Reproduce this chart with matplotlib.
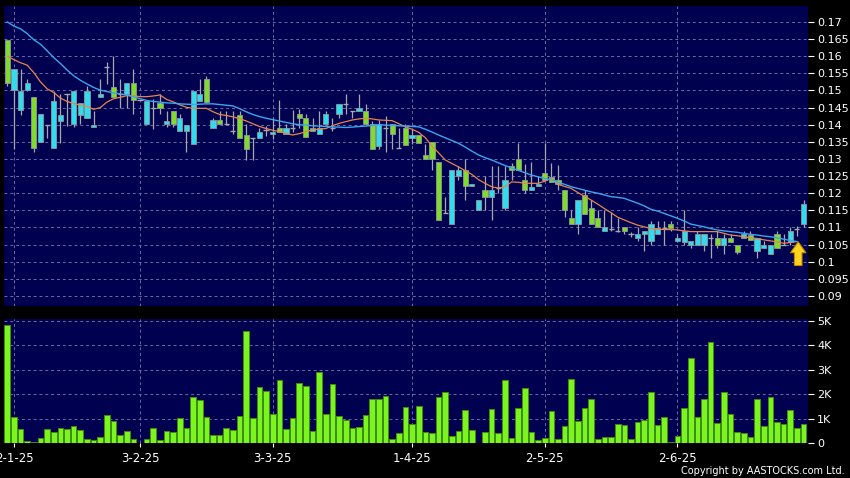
#%% Import libs
import numpy as np
import matplotlib.pyplot as plt

#%% Data (one candle per trading day)
date_labels = ['2-1-25', '3-2-25', '3-3-25', '1-4-25', '2-5-25', '2-6-25']
date_pos = [1, 20, 40, 61, 81, 101]

opens = [0.1648, 0.1501, 0.1443, 0.1501, 0.1480, 0.1350, 0.1400, 0.1331, 0.1412, 0.1490,
         0.1402, 0.1428, 0.1421, 0.1392, 0.1480, 0.1569, 0.1511, 0.1490, 0.1490, 0.1521,
         0.1472, 0.1402, 0.1450, 0.1463, 0.1402, 0.1441, 0.1382, 0.1382, 0.1343, 0.1470,
         0.1533, 0.1391, 0.1413, 0.1401, 0.1381, 0.1428, 0.1370, 0.1362, 0.1362, 0.1385,
         0.1372, 0.1391, 0.1372, 0.1390, 0.1430, 0.1420, 0.1381, 0.1372, 0.1401, 0.1391,
         0.1430, 0.1461, 0.1440, 0.1440, 0.1440, 0.1401, 0.1339, 0.1390, 0.1401, 0.1332,
         0.1391, 0.1360, 0.1370, 0.1311, 0.1350, 0.1290, 0.1141, 0.1110, 0.1250, 0.1269,
         0.1220, 0.1150, 0.1209, 0.1190, 0.1215, 0.1158, 0.1279, 0.1299, 0.1240, 0.1209,
         0.1220, 0.1258, 0.1248, 0.1240, 0.1209, 0.1129, 0.1110, 0.1196, 0.1158, 0.1129,
         0.1090, 0.1097, 0.1090, 0.1100, 0.1080, 0.1070, 0.1080, 0.1060, 0.1080, 0.1099,
         0.1109, 0.1060, 0.1059, 0.1050, 0.1050, 0.1050, 0.1070, 0.1070, 0.1050, 0.1070,
         0.1049, 0.1070, 0.1078, 0.1031, 0.1039, 0.1022, 0.1080, 0.1050, 0.1059, 0.1095,
         0.1109]
highs = [0.1648, 0.1562, 0.1562, 0.1533, 0.1480, 0.1430, 0.1400, 0.1499, 0.1490, 0.1490,
         0.1499, 0.1463, 0.1514, 0.1441, 0.1533, 0.1582, 0.1600, 0.1533, 0.1521, 0.1562,
         0.1472, 0.1470, 0.1475, 0.1490, 0.1441, 0.1441, 0.1431, 0.1400, 0.1499, 0.1533,
         0.1543, 0.1421, 0.1440, 0.1440, 0.1440, 0.1440, 0.1401, 0.1362, 0.1390, 0.1397,
         0.1420, 0.1472, 0.1401, 0.1442, 0.1445, 0.1430, 0.1420, 0.1440, 0.1440, 0.1420,
         0.1461, 0.1491, 0.1440, 0.1491, 0.1462, 0.1411, 0.1415, 0.1425, 0.1401, 0.1390,
         0.1401, 0.1389, 0.1370, 0.1345, 0.1350, 0.1290, 0.1190, 0.1269, 0.1279, 0.1299,
         0.1228, 0.1180, 0.1250, 0.1279, 0.1279, 0.1279, 0.1287, 0.1347, 0.1285, 0.1292,
         0.1250, 0.1347, 0.1287, 0.1283, 0.1209, 0.1150, 0.1180, 0.1209, 0.1180, 0.1150,
         0.1150, 0.1146, 0.1127, 0.1100, 0.1088, 0.1100, 0.1090, 0.1119, 0.1119, 0.1119,
         0.1119, 0.1080, 0.1150, 0.1060, 0.1090, 0.1080, 0.1080, 0.1090, 0.1080, 0.1080,
         0.1049, 0.1090, 0.1090, 0.1070, 0.1060, 0.1050, 0.1090, 0.1080, 0.1100, 0.1105,
         0.1180]
lows = [0.1513, 0.1330, 0.1428, 0.1499, 0.1321, 0.1350, 0.1360, 0.1331, 0.1348, 0.1396,
        0.1392, 0.1402, 0.1421, 0.1392, 0.1480, 0.1519, 0.1480, 0.1450, 0.1450, 0.1431,
        0.1472, 0.1402, 0.1387, 0.1431, 0.1392, 0.1392, 0.1382, 0.1321, 0.1343, 0.1470,
        0.1463, 0.1391, 0.1401, 0.1401, 0.1374, 0.1362, 0.1297, 0.1298, 0.1362, 0.1366,
        0.1357, 0.1380, 0.1372, 0.1380, 0.1391, 0.1364, 0.1381, 0.1372, 0.1401, 0.1381,
        0.1420, 0.1430, 0.1420, 0.1440, 0.1401, 0.1330, 0.1330, 0.1320, 0.1330, 0.1332,
        0.1342, 0.1345, 0.1348, 0.1300, 0.1269, 0.1121, 0.1141, 0.1110, 0.1240, 0.1180,
        0.1220, 0.1150, 0.1150, 0.1121, 0.1200, 0.1150, 0.1240, 0.1269, 0.1200, 0.1209,
        0.1220, 0.1238, 0.1233, 0.1209, 0.1131, 0.1110, 0.1082, 0.1140, 0.1111, 0.1100,
        0.1090, 0.1090, 0.1088, 0.1080, 0.1073, 0.1060, 0.1030, 0.1050, 0.1080, 0.1050,
        0.1090, 0.1058, 0.1050, 0.1039, 0.1050, 0.1030, 0.1010, 0.1039, 0.1022, 0.1059,
        0.1022, 0.1070, 0.1063, 0.1010, 0.1039, 0.1022, 0.1039, 0.1050, 0.1050, 0.1075,
        0.1102]
closes = [0.1522, 0.1562, 0.1499, 0.1521, 0.1331, 0.1430, 0.1400, 0.1470, 0.1429, 0.1490,
          0.1499, 0.1463, 0.1499, 0.1400, 0.1491, 0.1569, 0.1480, 0.1490, 0.1521, 0.1472,
          0.1472, 0.1470, 0.1450, 0.1450, 0.1412, 0.1402, 0.1421, 0.1400, 0.1499, 0.1491,
          0.1465, 0.1413, 0.1401, 0.1401, 0.1381, 0.1362, 0.1330, 0.1362, 0.1380, 0.1385,
          0.1380, 0.1380, 0.1391, 0.1390, 0.1420, 0.1364, 0.1391, 0.1391, 0.1430, 0.1391,
          0.1461, 0.1461, 0.1440, 0.1450, 0.1401, 0.1330, 0.1401, 0.1390, 0.1372, 0.1332,
          0.1342, 0.1370, 0.1348, 0.1300, 0.1299, 0.1121, 0.1141, 0.1269, 0.1269, 0.1220,
          0.1228, 0.1180, 0.1190, 0.1209, 0.1215, 0.1240, 0.1269, 0.1269, 0.1209, 0.1219,
          0.1228, 0.1238, 0.1233, 0.1228, 0.1150, 0.1110, 0.1180, 0.1140, 0.1111, 0.1100,
          0.1100, 0.1097, 0.1090, 0.1090, 0.1080, 0.1080, 0.1090, 0.1109, 0.1099, 0.1099,
          0.1099, 0.1070, 0.1090, 0.1060, 0.1080, 0.1080, 0.1070, 0.1050, 0.1070, 0.1059,
          0.1029, 0.1080, 0.1063, 0.1070, 0.1050, 0.1050, 0.1041, 0.1050, 0.1090, 0.1095,
          0.1170]

# volume in thousands
volume_k = [4.83, 1.06, 0.60, 0.11, 0.05, 0.20, 0.58, 0.46, 0.63, 0.60,
            0.71, 0.54, 0.19, 0.15, 0.26, 1.14, 0.91, 0.33, 0.49, 0.19,
            0.03, 0.19, 0.63, 0.14, 0.49, 0.48, 1.02, 0.63, 1.88, 1.76,
            1.06, 0.33, 0.33, 0.63, 0.53, 1.13, 4.60, 1.05, 2.31, 2.14,
            1.18, 2.60, 0.58, 1.02, 2.45, 2.33, 0.52, 2.90, 1.20, 2.41,
            1.12, 0.94, 0.63, 0.67, 1.14, 1.80, 1.80, 1.93, 0.16, 0.42,
            1.48, 0.78, 1.51, 0.46, 0.41, 1.89, 2.10, 0.31, 0.49, 1.36,
            0.53, 0.00, 0.46, 1.41, 0.41, 2.57, 0.20, 1.43, 2.24, 0.48,
            0.14, 0.20, 1.33, 0.18, 0.69, 2.63, 0.90, 1.44, 1.80, 0.16,
            0.24, 0.24, 0.80, 0.73, 0.16, 0.87, 0.95, 2.11, 0.73, 1.09,
            0.04, 0.31, 1.46, 3.47, 1.07, 1.80, 4.12, 0.82, 2.10, 1.20,
            0.45, 0.42, 0.26, 1.80, 0.71, 1.90, 0.86, 0.80, 1.36, 0.61,
            0.79]

# moving averages (orange = short, blue = long), no value for the last day
ma_short = [0.1600, 0.1590, 0.1581, 0.1574, 0.1552, 0.1525, 0.1505, 0.1494, 0.1478, 0.1468,
            0.1462, 0.1457, 0.1454, 0.1445, 0.1450, 0.1466, 0.1476, 0.1480, 0.1485, 0.1485,
            0.1482, 0.1482, 0.1484, 0.1487, 0.1474, 0.1467, 0.1458, 0.1451, 0.1448, 0.1448,
            0.1448, 0.1438, 0.1430, 0.1427, 0.1423, 0.1418, 0.1411, 0.1403, 0.1395, 0.1389,
            0.1384, 0.1380, 0.1375, 0.1370, 0.1374, 0.1380, 0.1385, 0.1387, 0.1389, 0.1397,
            0.1404, 0.1409, 0.1414, 0.1417, 0.1419, 0.1417, 0.1414, 0.1413, 0.1412, 0.1403,
            0.1394, 0.1387, 0.1378, 0.1362, 0.1338, 0.1318, 0.1297, 0.1287, 0.1277, 0.1266,
            0.1255, 0.1240, 0.1229, 0.1219, 0.1215, 0.1219, 0.1233, 0.1232, 0.1229, 0.1229,
            0.1229, 0.1235, 0.1244, 0.1226, 0.1220, 0.1214, 0.1202, 0.1191, 0.1180, 0.1168,
            0.1155, 0.1143, 0.1130, 0.1122, 0.1114, 0.1107, 0.1102, 0.1097, 0.1095, 0.1094,
            0.1094, 0.1093, 0.1090, 0.1088, 0.1088, 0.1088, 0.1088, 0.1088, 0.1083, 0.1078,
            0.1076, 0.1073, 0.1070, 0.1068, 0.1064, 0.1061, 0.1058, 0.1054, 0.1056, 0.1059]
ma_long = [0.1700, 0.1688, 0.1680, 0.1666, 0.1648, 0.1635, 0.1616, 0.1596, 0.1579, 0.1560,
           0.1543, 0.1530, 0.1519, 0.1509, 0.1501, 0.1497, 0.1493, 0.1490, 0.1487, 0.1482,
           0.1476, 0.1471, 0.1468, 0.1466, 0.1464, 0.1463, 0.1461, 0.1460, 0.1459, 0.1460,
           0.1461, 0.1461, 0.1459, 0.1457, 0.1455, 0.1447, 0.1438, 0.1430, 0.1424, 0.1419,
           0.1415, 0.1411, 0.1407, 0.1403, 0.1400, 0.1399, 0.1397, 0.1396, 0.1395, 0.1394,
           0.1393, 0.1392, 0.1393, 0.1395, 0.1396, 0.1398, 0.1400, 0.1399, 0.1398, 0.1397,
           0.1396, 0.1395, 0.1394, 0.1387, 0.1379, 0.1370, 0.1362, 0.1354, 0.1346, 0.1335,
           0.1323, 0.1312, 0.1304, 0.1297, 0.1289, 0.1281, 0.1274, 0.1267, 0.1260, 0.1253,
           0.1248, 0.1243, 0.1239, 0.1232, 0.1226, 0.1219, 0.1214, 0.1209, 0.1204, 0.1200,
           0.1195, 0.1190, 0.1188, 0.1185, 0.1178, 0.1171, 0.1163, 0.1153, 0.1148, 0.1141,
           0.1134, 0.1127, 0.1119, 0.1110, 0.1106, 0.1102, 0.1097, 0.1093, 0.1090, 0.1088,
           0.1086, 0.1083, 0.1080, 0.1078, 0.1075, 0.1073, 0.1070, 0.1066, 0.1062, 0.1059]

price_ticks = [0.09, 0.095, 0.1, 0.105, 0.11, 0.115, 0.12, 0.125, 0.13, 0.135,
               0.14, 0.145, 0.15, 0.155, 0.16, 0.165, 0.17]
price_labels = ['0.09', '0.095', '0.1', '0.105', '0.11', '0.115', '0.12', '0.125', '0.13',
                '0.135', '0.14', '0.145', '0.15', '0.155', '0.16', '0.165', '0.17']
vol_ticks = [0, 1, 2, 3, 4, 5]
vol_labels = ['0', '1K', '2K', '3K', '4K', '5K']

#%% Colours
bg = '#000050'
grid_c = '#6c6ca4'
up_c = '#33dcec'
down_c = '#80dc28'
wick_c = '#a8a8a8'

#%% Figure and panels (pixel layout of 850x478)
W, H = 850, 478
fig = plt.figure(figsize=(W / 100, H / 100), dpi=100, facecolor='black')
ax = fig.add_axes([4 / W, 1 - 306 / H, 803.5 / W, 300 / H])
axv = fig.add_axes([4 / W, 1 - 443.3 / H, 803.5 / W, 124.3 / H])

for a in (ax, axv):
    a.set_facecolor(bg)
    for s in a.spines.values():
        s.set_visible(False)
    a.yaxis.tick_right()
    a.set_xlim(-0.5, 120.6)
    a.set_xticks(date_pos)
    a.grid(True, color=grid_c, linestyle=(0, (3, 3)), linewidth=0.7)
    a.set_axisbelow(True)
    a.tick_params(axis='y', colors='white', labelsize=8, length=4, width=0.8, pad=3)

#%% Candles
o = np.array(opens)
h = np.array(highs)
l = np.array(lows)
c = np.array(closes)
x = np.arange(len(o))

ax.vlines(x, l, h, color=wick_c, linewidth=0.9, zorder=2)
body = o != c
cols = np.where(c >= o, up_c, down_c)
ax.bar(x[body], np.abs(c - o)[body], bottom=np.minimum(o, c)[body], width=0.78,
       color=cols[body], edgecolor='#8a9a9a', linewidth=0.6, zorder=3)
doji = ~body
ax.hlines(o[doji], x[doji] - 0.39, x[doji] + 0.39, color=wick_c, linewidth=1.0, zorder=3)

xm = np.arange(len(ma_short))
ax.plot(xm, ma_short, color='#e8844c', linewidth=0.9, zorder=4)
ax.plot(xm, ma_long, color='#3aa6ee', linewidth=1.0, zorder=4)

# yellow marker arrow
ax.annotate('', xy=(119.2, 0.1058), xytext=(119.2, 0.0989),
            arrowprops=dict(arrowstyle='simple,head_length=0.6,head_width=0.85,tail_width=0.42',
                            mutation_scale=13, fc='#ffd21e', ec='#c08a00', lw=0.8,
                            shrinkA=0, shrinkB=0), zorder=5)

ax.set_ylim(0.09 - 10 / 17.125 * 0.005, 0.17 + 16 / 17.125 * 0.005)
ax.set_yticks(price_ticks)
ax.set_yticklabels(price_labels)
ax.tick_params(axis='x', length=0, labelbottom=False)

#%% Volume
axv.bar(x, volume_k, width=0.85, color='#7cf51e', edgecolor='#3e8e12', linewidth=0.7, zorder=3)
axv.set_ylim(0, 5.07)
axv.set_yticks(vol_ticks)
axv.set_yticklabels(vol_labels)
axv.set_xticklabels(date_labels)
axv.tick_params(axis='x', colors='white', labelsize=8.5, length=3, width=0.8, pad=3)

fig.text(845 / W, 1 - 471.5 / H, 'Copyright by AASTOCKS.com Ltd.', ha='right', va='center',
         color='white', fontsize=7)

plt.savefig('out.png', dpi=100, facecolor='black')
